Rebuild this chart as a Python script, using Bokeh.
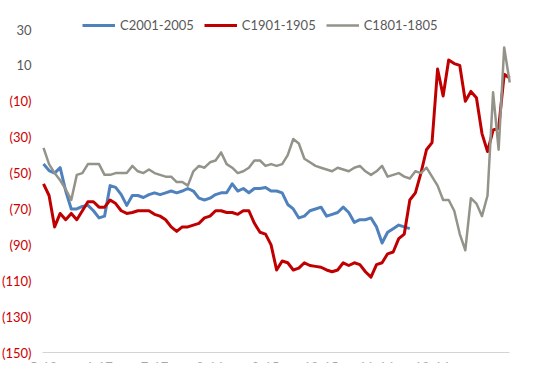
from bokeh.plotting import figure
from bokeh.models import FixedTicker, LabelSet, ColumnDataSource, Legend, LegendItem
from bokeh.core.properties import value, field
from bokeh.embed import file_html
from bokeh.resources import INLINE

x_labels = ["5-18", "6-17", "7-17", "8-16", "9-15", "10-15", "11-14", "12-14"]
x_label_pos = [0, 10, 20, 30, 40, 50, 60, 70]
y_ticks = [30, 10, -10, -30, -50, -70, -90, -110, -130, -150]

c2001 = [-45, -48.6, -50, -47, -60, -70, -70, -68.6, -68, -71,
         -75, -74, -57, -58, -62, -68, -62.5, -62.5, -63.6, -62,
         -61, -62, -61, -60, -61, -60, -58.6, -60, -64, -65,
         -64, -62, -61, -61, -56, -60, -58.6, -61, -58.6, -58.6,
         -58, -60, -60, -61, -67.5, -70, -75, -74, -71, -70,
         -69, -74, -73, -72, -69, -72, -77.5, -76, -76, -75,
         -80, -89, -83, -81, -79, -80, -81]

c1901 = [-56, -62.5, -80, -72.5, -76, -72.5, -76, -71, -66, -66,
         -69, -69, -65, -67, -71, -72.5, -72, -71, -71, -71,
         -73, -74, -76, -80, -82.5, -80, -80, -79, -78, -75,
         -74, -71, -71, -72, -72, -73, -71, -71, -78, -83,
         -84, -90, -104, -99, -100, -104, -103, -100, -101.5, -102,
         -102.5, -104, -105, -104, -100, -101.5, -100, -101, -105, -108,
         -101, -100, -95, -94, -86.5, -84, -65, -61, -50, -37,
         -33, 8, -7, 13, 11, 10, -10, -4.5, -8, -28,
         -38, -26, -25, 5, 3]

c1801 = [-36, -45, -50, -54, -59, -65, -51, -50, -45, -45,
         -45, -51, -51, -50, -50, -50, -46, -49, -50, -48,
         -50, -51, -52, -52, -55, -55, -57, -49, -46, -47,
         -44, -43, -38.5, -45, -47, -50, -49, -47, -43, -43,
         -46, -45, -46, -45, -40, -31, -33.5, -42, -44, -46,
         -47, -48, -49, -47, -48, -49, -47, -46, -49, -51,
         -49, -46, -52, -51, -50, -52, -53, -49, -50, -47,
         -52, -57, -65, -65, -71, -84, -93, -64, -67, -74,
         -62.5, -5, -37, 20, 0.5]

series = [
    ("C2001-2005", c2001, "#4F81BD", 3),
    ("C1901-1905", c1901, "#C00000", 3),
    ("C1801-1805", c1801, "#939389", 2.5),
]

n_max = max(len(c2001), len(c1901), len(c1801))

p = figure(width=534, height=380, x_range=(-7.75, 85.4), y_range=(-155.57, 40.6),
           output_backend="svg", toolbar_location=None,
           min_border_left=0, min_border_right=17, min_border_top=10, min_border_bottom=18)
p.outline_line_color = None
p.xgrid.grid_line_color = None
p.ygrid.grid_line_color = None
p.yaxis.visible = False
p.background_fill_color = "white"

items = []
for name, vals, color, w in series:
    r = p.line(list(range(len(vals))), vals, line_color=color, line_width=w, line_join="round")
    items.append(LegendItem(label=name, renderers=[r]))

# x axis: its line is the light baseline at the bottom of the value scale
p.xaxis.fixed_location = y_ticks[-1]
p.xaxis.bounds = (x_label_pos[0] - 0.2, n_max - 1)
p.xaxis.ticker = FixedTicker(ticks=x_label_pos)
p.xaxis.major_label_overrides = {pos: lab for pos, lab in zip(x_label_pos, x_labels)}
p.xaxis.axis_line_color = "#D4D4D4"
p.xaxis.axis_line_width = 1.2
p.xaxis.major_tick_line_color = None
p.xaxis.minor_tick_line_color = None
p.xaxis.major_tick_out = 0
p.xaxis.major_tick_in = 0
p.xaxis.major_label_standoff = 9
p.xaxis.major_label_text_font = "Lato"
p.xaxis.major_label_text_font_size = "13px"
p.xaxis.major_label_text_color = "#595959"

# value labels: negatives in red with parentheses, positives in grey
ysrc = ColumnDataSource(dict(
    y=y_ticks,
    x=[31] * len(y_ticks),
    t=[f"({abs(v)})" if v < 0 else str(v) for v in y_ticks],
    c=["#CC0000" if v < 0 else "#595959" for v in y_ticks],
))
p.add_layout(LabelSet(x="x", y="y", text="t", source=ysrc, x_units="screen",
                      text_align="right", text_baseline="middle",
                      text_font=value("Lato"), text_font_size=value("13px"),
                      text_color=field("c")))

legend = Legend(items=items, orientation="horizontal", location=(82, 327),
                glyph_width=33, glyph_height=20, label_standoff=5, spacing=10,
                padding=0, margin=0, border_line_color=None, background_fill_alpha=0,
                label_text_font="Lato", label_text_font_size="13px",
                label_text_color="#595959")
p.add_layout(legend)

open("out.html", "w").write(file_html(p, INLINE))
